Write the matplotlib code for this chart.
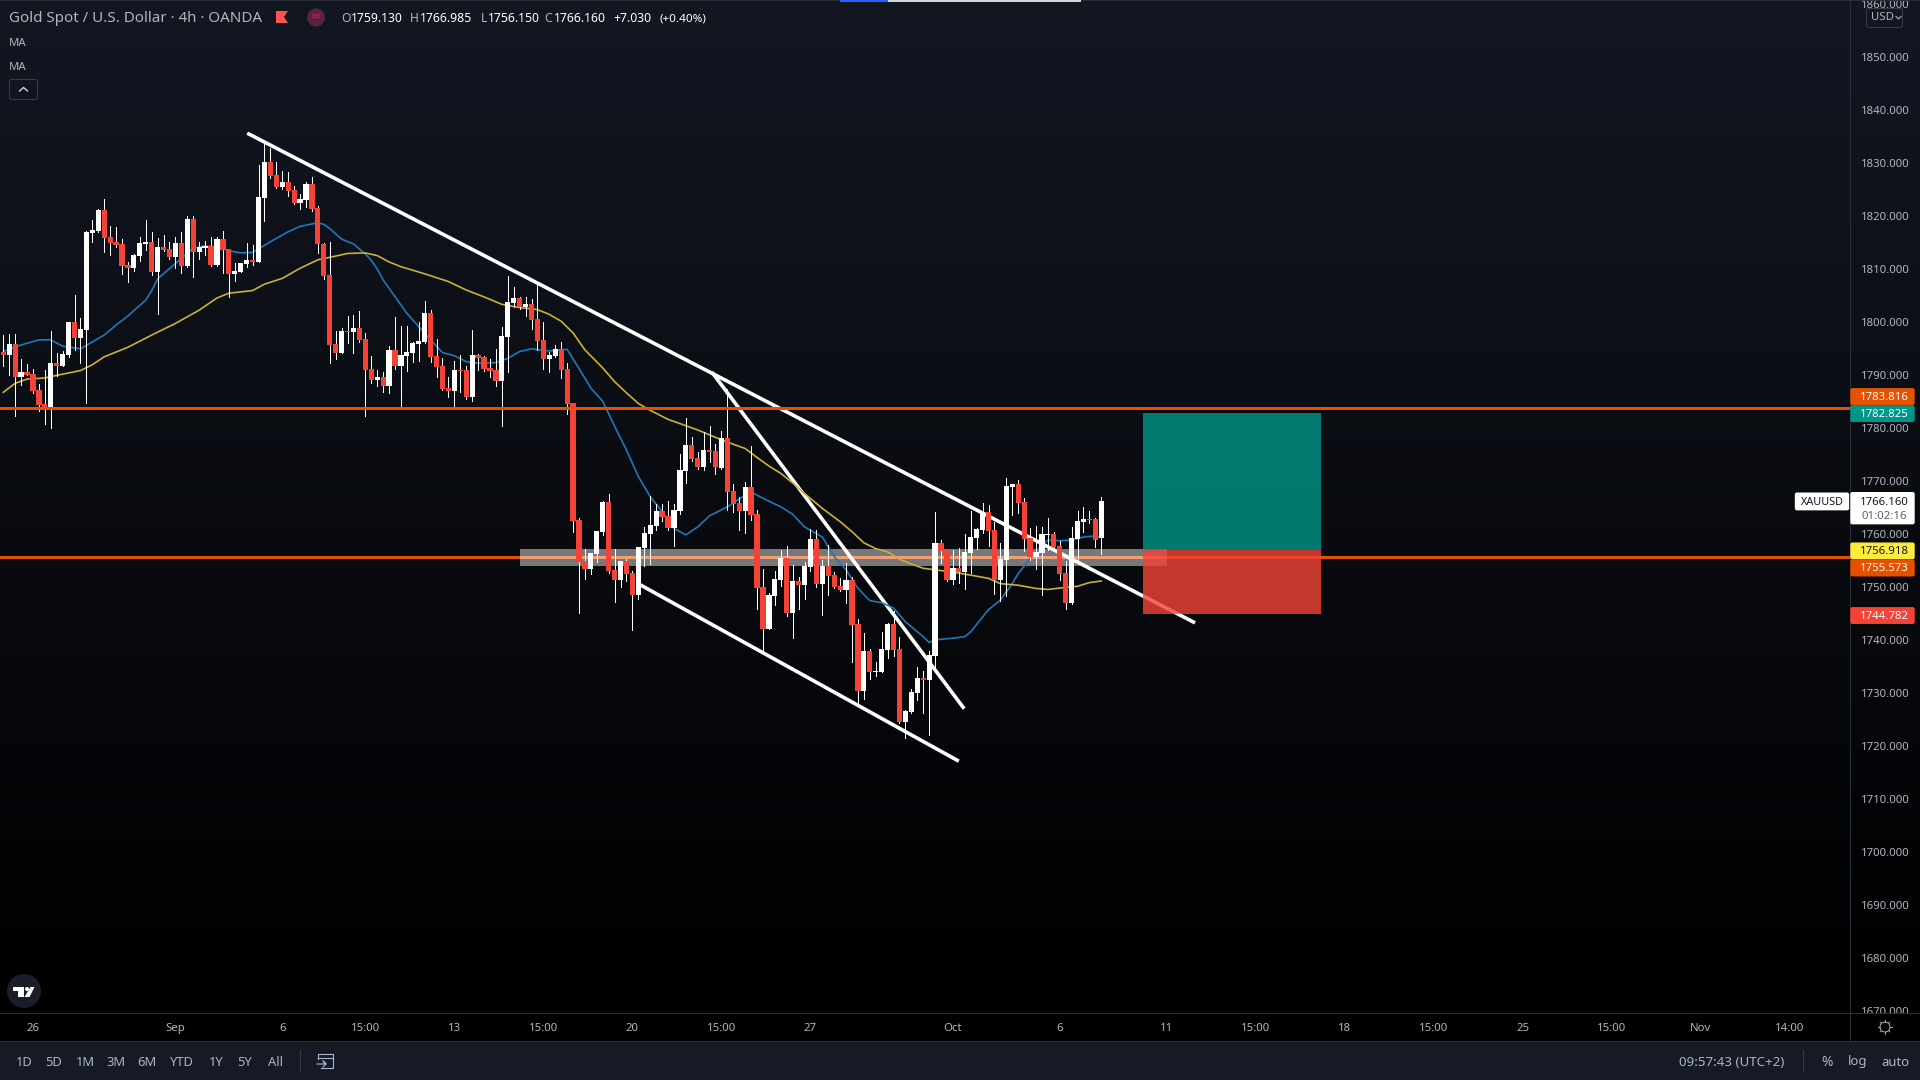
import numpy as np
import matplotlib
matplotlib.use('Agg')
import matplotlib.pyplot as plt
from matplotlib.patches import Rectangle, FancyBboxPatch, Circle, Polygon
from matplotlib.transforms import blended_transform_factory

plt.rcParams['font.family'] = ['Noto Sans', 'DejaVu Sans']

### ------------- XAUUSD 4h candles, oldest first
opens = [1794.3,1793.7,1795.8,1789.6,1790.5,1790.2,1787.1,1784.5,1783.9,1792.2,
         1791.7,1793.7,1800.0,1797.0,1798.5,1816.8,1817.1,1821.1,1816.0,1815.1,
         1814.7,1810.7,1810.2,1812.4,1814.7,1815.1,1809.4,1814.1,1813.7,1812.2,
         1814.9,1810.5,1819.4,1813.2,1813.9,1814.3,1810.7,1815.6,1813.7,1809.0,
         1809.4,1810.9,1811.7,1811.3,1823.4,1830.2,1827.7,1825.4,1826.4,1824.9,
         1822.4,1823.0,1826.0,1821.5,1814.7,1808.8,1795.8,1794.1,1798.3,1798.1,
         1798.8,1796.8,1791.1,1789.0,1789.6,1787.9,1794.7,1791.7,1793.6,1794.1,
         1795.8,1796.2,1801.7,1793.6,1791.7,1787.5,1787.0,1790.9,1790.9,1785.8,
         1793.7,1793.4,1791.3,1790.9,1788.8,1797.1,1803.6,1804.5,1802.8,1803.4,
         1800.5,1796.6,1793.0,1793.6,1794.9,1791.1,1784.7,1762.6,1754.9,1753.4,
         1756.2,1760.3,1766.0,1753.2,1751.3,1754.9,1752.6,1748.5,1757.3,1760.0,
         1761.5,1764.3,1763.4,1761.1,1764.3,1771.9,1776.8,1774.3,1772.6,1775.8,
         1775.6,1772.4,1778.1,1768.1,1765.8,1764.3,1768.8,1763.7,1750.0,1742.0,
         1748.3,1751.3,1755.4,1745.1,1751.1,1750.3,1753.7,1759.0,1750.5,1753.9,
         1752.2,1750.2,1749.4,1751.3,1743.0,1730.3,1737.9,1733.9,1733.9,1738.1,
         1743.0,1738.3,1724.5,1726.4,1730.0,1732.8,1732.4,1737.0,1758.3,1756.9,
         1751.3,1753.6,1752.8,1756.4,1759.2,1760.7,1764.1,1760.7,1751.3,1755.1,
         1768.8,1769.4,1766.0,1759.2,1755.6,1756.4,1759.8,1760.0,1757.7,1752.6,
         1746.9,1759.0,1762.2,1762.8,1762.8,1759.13]

closes = [1793.7,1795.8,1789.6,1790.5,1790.0,1786.9,1784.3,1783.9,1792.2,1791.7,
          1793.9,1800.0,1797.0,1798.6,1817.0,1817.3,1821.1,1815.8,1814.9,1814.5,
          1810.5,1810.2,1812.6,1814.9,1815.1,1809.4,1814.1,1813.6,1812.2,1814.9,
          1810.5,1819.4,1813.2,1814.1,1814.3,1810.7,1815.6,1813.6,1809.0,1809.6,
          1811.1,1811.7,1811.3,1823.5,1830.2,1827.5,1825.4,1826.4,1824.7,1822.4,
          1823.2,1826.0,1821.3,1814.7,1808.6,1795.6,1794.1,1798.3,1798.1,1798.8,
          1796.6,1790.9,1789.0,1789.6,1787.9,1794.7,1791.7,1793.7,1794.3,1796.0,
          1796.4,1801.7,1793.4,1791.5,1787.3,1787.0,1790.9,1790.7,1785.8,1793.7,
          1793.2,1791.1,1790.7,1788.8,1797.3,1803.7,1804.5,1802.8,1803.4,1800.3,
          1796.4,1793.0,1793.7,1794.9,1790.9,1784.5,1762.4,1754.7,1753.4,1756.4,
          1760.5,1766.0,1753.0,1751.3,1754.9,1752.4,1748.5,1757.5,1760.2,1761.7,
          1764.3,1763.2,1761.1,1764.5,1772.0,1776.8,1774.1,1772.6,1775.8,1775.4,
          1772.6,1778.1,1767.9,1765.6,1764.3,1768.8,1763.6,1749.8,1742.0,1748.5,
          1751.5,1755.4,1745.1,1751.1,1750.3,1753.9,1759.0,1750.5,1753.9,1752.0,
          1750.0,1749.4,1751.3,1742.8,1730.3,1737.9,1733.9,1734.1,1738.3,1743.0,
          1738.1,1724.5,1726.6,1730.2,1732.8,1732.4,1737.1,1758.3,1756.8,1751.3,
          1753.6,1752.8,1756.6,1759.4,1760.9,1764.1,1760.5,1751.3,1755.2,1769.0,
          1769.4,1765.8,1759.0,1755.6,1756.6,1760.0,1760.0,1757.5,1752.4,1746.9,
          1759.2,1762.4,1762.8,1762.6,1758.8,1766.16]

highs = [1797.5,1797.7,1797.7,1793.0,1792.0,1791.1,1788.2,1790.9,1798.3,1794.1,
         1794.5,1800.0,1805.1,1800.7,1817.1,1819.2,1821.3,1823.2,1818.1,1817.9,
         1815.6,1811.3,1812.8,1816.0,1819.2,1817.0,1815.8,1816.4,1815.1,1816.0,
         1817.0,1820.0,1820.0,1815.1,1815.2,1816.0,1816.0,1817.1,1813.7,1811.1,
         1811.1,1814.9,1814.5,1829.6,1833.7,1832.8,1830.2,1828.5,1828.3,1825.6,
         1824.1,1826.4,1827.3,1821.9,1814.8,1815.0,1798.3,1798.8,1801.1,1801.3,
         1802.0,1797.9,1793.6,1790.9,1790.5,1795.5,1800.9,1799.2,1799.2,1796.2,
         1800.0,1803.9,1802.2,1796.8,1793.2,1789.6,1792.6,1793.7,1791.7,1798.5,
         1793.9,1793.6,1793.0,1794.9,1799.0,1808.7,1806.6,1804.7,1804.7,1804.3,
         1807.1,1800.0,1794.3,1795.6,1796.2,1792.2,1784.7,1763.0,1757.1,1756.4,
         1760.5,1766.2,1767.5,1757.1,1754.9,1755.3,1753.0,1757.5,1761.3,1767.1,
         1765.6,1765.6,1766.2,1765.6,1775.1,1781.9,1778.3,1775.4,1779.2,1780.3,
         1777.0,1779.4,1787.3,1769.4,1767.0,1769.8,1776.6,1764.5,1753.4,1748.8,
         1753.0,1757.0,1757.7,1754.1,1751.9,1754.7,1760.9,1760.7,1755.1,1757.9,
         1752.8,1751.7,1754.5,1751.9,1743.9,1741.3,1738.3,1735.8,1741.5,1743.2,
         1745.4,1740.5,1726.8,1730.7,1734.9,1734.1,1737.9,1764.1,1758.8,1756.9,
         1756.9,1757.3,1760.0,1764.3,1761.1,1765.8,1765.4,1762.2,1758.3,1770.5,
         1769.4,1770.2,1766.8,1761.1,1761.5,1761.3,1763.0,1760.3,1758.7,1754.9,
         1761.3,1764.3,1765.1,1764.3,1763.0,1766.985]

lows = [1791.7,1790.0,1782.2,1788.1,1790.0,1786.6,1783.2,1780.7,1780.0,1789.8,
        1791.7,1793.4,1794.7,1792.2,1784.7,1815.1,1817.0,1813.2,1812.6,1814.1,
        1809.0,1807.5,1809.6,1811.5,1813.6,1808.8,1801.5,1813.4,1811.9,1810.2,
        1809.2,1810.3,1808.5,1811.9,1812.6,1810.5,1810.5,1809.2,1804.7,1807.7,
        1809.4,1810.3,1810.7,1811.3,1819.0,1827.1,1825.3,1825.1,1823.7,1822.2,
        1821.3,1821.7,1820.9,1813.0,1808.1,1792.2,1793.0,1794.1,1796.0,1794.1,
        1796.2,1782.2,1788.5,1787.9,1786.8,1786.6,1791.1,1783.7,1790.7,1792.4,
        1792.6,1796.0,1792.4,1789.6,1787.1,1785.8,1783.5,1786.8,1785.4,1785.1,
        1790.9,1790.7,1789.6,1787.9,1780.3,1790.5,1802.8,1802.4,1801.1,1798.7,
        1794.7,1791.1,1790.5,1793.4,1789.4,1782.6,1760.3,1745.1,1751.5,1752.4,
        1754.7,1759.8,1752.6,1747.1,1750.0,1751.1,1741.9,1747.7,1753.9,1754.3,
        1760.7,1762.4,1760.7,1757.7,1763.7,1769.6,1773.7,1772.2,1772.0,1773.6,
        1771.3,1772.2,1764.5,1764.1,1760.7,1760.2,1762.6,1745.8,1737.3,1742.0,
        1746.6,1750.2,1744.5,1740.3,1745.8,1747.7,1753.0,1750.0,1744.7,1748.5,
        1749.8,1749.2,1747.0,1735.8,1728.1,1728.8,1732.6,1733.2,1733.9,1736.6,
        1737.0,1724.3,1721.5,1726.2,1728.6,1726.2,1722.0,1734.9,1754.5,1751.1,
        1750.5,1750.7,1749.6,1752.6,1757.1,1760.2,1757.7,1748.6,1747.3,1748.3,
        1763.6,1763.9,1756.8,1755.1,1753.4,1748.5,1756.9,1757.3,1751.3,1745.8,
        1746.8,1754.7,1760.3,1762.0,1757.5,1756.15]

### ------------- moving averages, read at these bar numbers
fast_ma_bars = [0,2,6,8,10,13,17,19,21,24,25,26,29,32,34,36,38,40,42,45,48,50,53,54,55,57,59,61,
                62,63,64,68,70,72,74,76,78,80,83,85,87,89,92,95,97,99,101,103,105,107,109,111,113,
                115,117,119,122,125,126,128,131,133,135,138,140,142,144,146,148,150,152,155,156,
                157,160,162,163,165,166,168,170,171,173,175,176,178,180,182,184,185]
fast_ma = [1794.4,1795.3,1796.6,1796.6,1795.4,1794.9,1797.5,1799.4,1801.1,1804.1,1805.9,1808.1,1811.0,
           1813.9,1814.3,1814.1,1813.4,1813.0,1813.1,1815.1,1817.0,1818.0,1818.7,1818.4,1817.6,
           1815.6,1814.7,1812.8,1811.6,1810.0,1807.9,1801.6,1799.1,1796.6,1794.2,1793.6,1792.5,1792.2,
           1792.3,1793.1,1794.4,1794.9,1794.5,1794.8,1791.2,1787.5,1785.0,1780.3,1775.8,1770.8,1767.0,
           1764.2,1761.0,1759.8,1761.3,1763.4,1765.1,1767.3,1767.9,1766.7,1765.1,1763.7,1761.3,1759.4,
           1755.7,1753.2,1749.7,1747.4,1747.0,1746.0,1743.4,1740.6,1739.5,1740.0,1740.3,1740.6,1741.5,
           1744.3,1745.7,1747.5,1750.6,1752.5,1755.3,1757.9,1758.8,1758.7,1758.8,1759.4,1759.6,1759.4]

slow_ma_bars = [0,2,4,7,9,13,15,17,21,25,29,33,36,38,42,44,47,50,53,56,58,61,63,65,67,70,72,75,78,81,84,
                87,90,92,94,96,98,101,103,105,107,109,112,114,117,120,123,125,127,129,131,133,135,138,
                141,143,145,147,149,151,153,155,157,160,163,166,168,171,174,176,179,181,183,185]
slow_ma = [1786.7,1788.4,1789.2,1789.4,1789.9,1790.8,1791.9,1793.4,1795.2,1797.5,1799.7,1802.2,1804.5,
           1805.4,1805.9,1807.1,1808.2,1810.1,1811.7,1812.4,1812.9,1813.0,1812.5,1811.3,1810.4,1809.4,
           1808.7,1807.6,1806.0,1804.7,1803.3,1802.7,1802.3,1801.4,1800.1,1797.9,1794.7,1791.3,1788.7,
           1786.6,1784.6,1783.3,1781.6,1780.8,1779.6,1778.2,1776.9,1776.1,1774.4,1772.8,1771.4,1769.6,
           1767.6,1764.8,1762.3,1760.4,1758.3,1757.2,1756.6,1755.2,1754.3,1753.5,1753.2,1752.8,1752.2,
           1751.6,1750.6,1750.3,1749.7,1749.5,1749.9,1750.1,1750.8,1751.1]

### ------------- drawings on the chart
upper_level = 1783.816
lower_level = 1755.573
zone_bars = [87, 196]
zone_prices = [1753.99, 1757.14]
entry_price = 1756.918
target_price = 1782.825
stop_price = 1744.782
position_bars = [192, 222]
resistance_bars = [41.1, 200.8]
resistance_prices = [1835.6, 1743.2]
wedge_top_bars = [119.4, 161.9]
wedge_top_prices = [1790.5, 1727.0]
wedge_low_bars = [106.8, 161.0]
wedge_low_prices = [1750.7, 1717.1]

### ------------- axis labels
price_ticks = list(range(1670, 1861, 10))
time_tick_bars = [5, 29, 47, 61, 76, 91, 106, 121, 136, 160, 178, 196, 211, 226, 241, 256, 271, 286, 301]
time_tick_labels = ['26', 'Sep', '6', '15:00', '13', '15:00', '20', '15:00', '27', 'Oct', '6', '11',
                    '15:00', '18', '15:00', '25', '15:00', 'Nov', '14:00']
range_buttons = ['1D', '5D', '1M', '3M', '6M', 'YTD', '1Y', '5Y', 'All']
range_button_x = [24, 54, 85, 116, 147, 182, 216, 245, 275]

RED = '#F44336'
TEAL = '#009688'
ORANGE = '#E65100'
YELLOW = '#FFEB3B'
AXIS_TEXT = '#B2B5BE'
PANEL = '#161A25'
EDGE = '#2A2E39'

W, H = 1920, 1080
PANE_W, PANE_H = 1850, 1013
fig = plt.figure(figsize = (W / 100, H / 100), dpi = 100, facecolor = 'black')

# vertical background gradient behind the pane and the price scale
bg = fig.add_axes([0, 1 - PANE_H / H, 1, PANE_H / H], zorder = 0)
top_colour = np.array([19, 23, 34]) / 255
grad = np.linspace(0, 1, 512)[:, None, None] * (-top_colour) + top_colour
bg.imshow(grad, aspect = 'auto', extent = (0, 1, 0, 1), interpolation = 'bilinear')
bg.axis('off')

# main pane
ax = fig.add_axes([0, 1 - PANE_H / H, PANE_W / W, PANE_H / H], zorder = 1)
ax.patch.set_visible(False)
ax.set_xlim(-3.3 / 5.935, (PANE_W - 3.3) / 5.935)
ax.set_ylim(1669.59, 1860.72)

ax.axhline(lower_level, color = ORANGE, lw = 2.2, zorder = 1)
ax.add_patch(Rectangle((zone_bars[0], zone_prices[0]), zone_bars[1] - zone_bars[0],
                       zone_prices[1] - zone_prices[0], facecolor = 'white', alpha = 0.45,
                       linewidth = 0, zorder = 2))

ax.plot(resistance_bars, resistance_prices, color = 'white', lw = 2.6, solid_capstyle = 'butt', zorder = 2.5)
ax.plot(wedge_top_bars, wedge_top_prices, color = 'white', lw = 2.6, solid_capstyle = 'butt', zorder = 2.5)
ax.plot(wedge_low_bars, wedge_low_prices, color = 'white', lw = 2.6, solid_capstyle = 'butt', zorder = 2.5)

ax.plot(fast_ma_bars, fast_ma, color = '#2177B8', lw = 1.2, zorder = 3)
ax.plot(slow_ma_bars, slow_ma, color = '#C9B037', lw = 1.2, zorder = 3)

# candles
bars = np.arange(len(opens))
o = np.array(opens)
c = np.array(closes)
candle_colours = np.where(c >= o, 'white', RED)
ax.vlines(bars, lows, highs, colors = 'white', lw = 0.5, antialiased = False, zorder = 4)
ax.bar(bars, np.maximum(np.abs(c - o), 0.25), bottom = np.minimum(o, c), width = 0.88,
       color = candle_colours, linewidth = 0, antialiased = False, zorder = 4.1)

ax.axhline(upper_level, color = ORANGE, lw = 2.2, zorder = 5)

# long position box
ax.add_patch(Rectangle((position_bars[0], entry_price), position_bars[1] - position_bars[0],
                       target_price - entry_price, facecolor = TEAL, alpha = 0.8, linewidth = 0, zorder = 6))
ax.add_patch(Rectangle((position_bars[0], stop_price), position_bars[1] - position_bars[0],
                       entry_price - stop_price, facecolor = RED, alpha = 0.8, linewidth = 0, zorder = 6))

ax.set_yticks(price_ticks)
ax.set_yticklabels(['%.3f' % p for p in price_ticks])
ax.yaxis.tick_right()
ax.tick_params(axis = 'y', length = 0, pad = 8, labelsize = 8.2, labelcolor = AXIS_TEXT)
ax.set_xticks([])
for side in ['top', 'left', 'bottom']:
    ax.spines[side].set_visible(False)
ax.spines['right'].set_color(EDGE)

# time scale strip
time_ax = fig.add_axes([0, 39 / H, PANE_W / W, 28 / H], sharex = ax, zorder = 2, facecolor = 'black')
time_ax.set_ylim(0, 1)
time_ax.tick_params(length = 0, labelbottom = False, labelleft = False)
for side in time_ax.spines.values():
    side.set_visible(False)
strip_trans = blended_transform_factory(time_ax.transData, time_ax.transAxes)
for bar, label in zip(time_tick_bars, time_tick_labels):
    time_ax.text(bar, 0.45, label, transform = strip_trans, ha = 'center', va = 'center', color = AXIS_TEXT,
                 fontsize = 8.2, fontweight = 'bold' if label in ['Sep', 'Oct', 'Nov'] else 'normal')

# header, buttons and price badges, laid out in screen pixels
ui = fig.add_axes([0, 0, 1, 1], zorder = 3)
ui.set_xlim(0, W)
ui.set_ylim(H, 0)
ui.axis('off')
ui.patch.set_visible(False)


def price_to_y(price) :
    return H - ax.transData.transform((0, price))[1]


def badge(price, label, face, colour = 'white', shift = 0, weight = 'bold') :
    y = price_to_y(price) + shift
    ui.add_patch(FancyBboxPatch((1851, y - 7.5), 63, 15.5, boxstyle = 'round,pad=0,rounding_size=1.5',
                                facecolor = face, linewidth = 1, edgecolor = face))
    ui.text(1884.5, y + 1, label, color = colour, fontsize = 8.2, ha = 'center', va = 'center', fontweight = weight)


ui.add_patch(Rectangle((PANE_W, 1013), 70, 28, facecolor = 'black', linewidth = 0))
ui.add_patch(Rectangle((0, 1041), W, 39, facecolor = PANEL, linewidth = 0))
ui.plot([0, W], [1013, 1013], color = EDGE, lw = 0.8)
ui.plot([0, W], [1041, 1041], color = EDGE, lw = 0.8)
ui.plot([PANE_W, PANE_W], [1013, 1041], color = EDGE, lw = 0.8)
ui.add_patch(Rectangle((0, 0), W, 1.2, facecolor = EDGE, linewidth = 0))
ui.add_patch(Rectangle((840, 0), 48, 1.5, facecolor = '#2962FF', linewidth = 0))
ui.add_patch(Rectangle((888, 0), 193, 1.5, facecolor = '#D1D4DC', linewidth = 0))

ui.text(9, 19, 'Gold Spot / U.S. Dollar · 4h · OANDA', color = AXIS_TEXT, fontsize = 10.9, va = 'center')
ui.add_patch(Polygon([(276, 11), (288, 11), (284, 17), (288, 23), (276, 23)], facecolor = '#FF5252', linewidth = 0))
ui.add_patch(Circle((316, 17.5), 9, facecolor = '#5A2240', linewidth = 0))
ui.text(316, 17, '≈', color = '#C2185B', fontsize = 9, ha = 'center', va = 'center', fontweight = 'bold')

for x, letter, x_val, val in zip([341, 410, 481, 544], 'OHLC', [351, 420, 488, 554],
                                 ['1759.130', '1766.985', '1756.150', '1766.160']) :
    ui.text(x, 19, letter, color = AXIS_TEXT, fontsize = 8.8, va = 'center')
    ui.text(x_val, 19, val, color = 'white', fontsize = 8.8, va = 'center', fontweight = 'semibold')
ui.text(613, 19, '+7.030', color = 'white', fontsize = 8.8, va = 'center', fontweight = 'semibold')
ui.text(660, 19, '(+0.40%)', color = 'white', fontsize = 8.4, va = 'center', fontweight = 'semibold')

ui.text(9, 44, 'MA', color = AXIS_TEXT, fontsize = 8.2, va = 'center')
ui.text(9, 68, 'MA', color = AXIS_TEXT, fontsize = 8.2, va = 'center')
ui.add_patch(FancyBboxPatch((9.5, 79.5), 28, 20, boxstyle = 'round,pad=0,rounding_size=2',
                            facecolor = 'none', edgecolor = '#363A45', linewidth = 0.8))
ui.plot([19.5, 23.5, 27.5], [91, 87.5, 91], color = '#D1D4DC', lw = 1)

# USD button covers the top tick label
ui.add_patch(FancyBboxPatch((1866.5, 8.5), 36, 19, boxstyle = 'round,pad=0,rounding_size=2',
                            facecolor = '#131722', edgecolor = '#363A45', linewidth = 0.8))
ui.text(1871, 18, 'USD', color = AXIS_TEXT, fontsize = 8.2, va = 'center')
ui.plot([1896, 1898.5, 1901], [16.5, 19, 16.5], color = AXIS_TEXT, lw = 0.8)

badge(upper_level, '1783.816', ORANGE, shift = -11.3)
badge(target_price, '1782.825', TEAL, shift = 0.5)
badge(entry_price, '1756.918', YELLOW, colour = '#131722', shift = 0.5, weight = 'normal')
badge(lower_level, '1755.573', ORANGE, shift = 10.5)
badge(stop_price, '1744.782', RED, shift = 0.8)

# last price: symbol tag and a two line badge with the bar countdown
last_y = price_to_y(closes[-1])
ui.add_patch(FancyBboxPatch((1851, last_y - 8.5), 63, 31, boxstyle = 'round,pad=0,rounding_size=1.5',
                            facecolor = 'white', edgecolor = 'white', linewidth = 1))
ui.text(1884.5, last_y + 1, '%.3f' % closes[-1], color = '#131722', fontsize = 8.2, ha = 'center', va = 'center')
ui.text(1884.5, last_y + 15, '01:02:16', color = '#5D606B', fontsize = 8.2, ha = 'center', va = 'center')
ui.add_patch(FancyBboxPatch((1795.5, last_y - 8), 53, 16.5, boxstyle = 'round,pad=0,rounding_size=1.5',
                            facecolor = 'white', edgecolor = 'white', linewidth = 1))
ui.text(1822, last_y + 1, 'XAUUSD', color = '#131722', fontsize = 7.8, ha = 'center', va = 'center')

# logo badge
ui.add_patch(Circle((24, 991), 17, facecolor = '#1A1E2B', linewidth = 0))
ui.add_patch(Polygon([(13, 987), (23.5, 987), (23.5, 997), (18, 997), (18, 990.5), (13, 990.5)],
                     facecolor = 'white', linewidth = 0))
ui.add_patch(Circle((27, 989), 2, facecolor = 'white', linewidth = 0))
ui.add_patch(Polygon([(30.5, 987), (34.5, 987), (29.5, 997), (24.5, 997)], facecolor = 'white', linewidth = 0))

# gear icon in the scale corner
gear = np.linspace(0, 2 * np.pi, 8, endpoint = False)
ui.add_patch(Circle((1885, 1027), 5, facecolor = 'none', edgecolor = AXIS_TEXT, linewidth = 0.7))
for a in gear :
    ui.plot([1885 + 5 * np.cos(a), 1885 + 7 * np.cos(a)], [1027 + 5 * np.sin(a), 1027 + 7 * np.sin(a)],
            color = AXIS_TEXT, lw = 0.6)

# bottom toolbar
for x, label in zip(range_button_x, range_buttons) :
    ui.text(x, 1062, label, color = '#A9B4CC', fontsize = 9.3, ha = 'center', va = 'center')
ui.plot([300, 300], [1050, 1071], color = '#363A45', lw = 0.8)
ui.plot([1803, 1803], [1050, 1071], color = '#363A45', lw = 0.8)
ui.plot([318, 318, 333, 333, 321], [1059, 1054, 1054, 1068, 1068], color = '#A9B4CC', lw = 0.8)
ui.plot([318, 333], [1058, 1058], color = '#A9B4CC', lw = 0.8)
ui.plot([317, 326, 323, 326, 323], [1064, 1064, 1061, 1064, 1067], color = '#A9B4CC', lw = 0.8)
ui.text(1732, 1062, '09:57:43 (UTC+2)', color = '#A9B4CC', fontsize = 9.6, ha = 'center', va = 'center')
ui.text(1827, 1062, '%', color = AXIS_TEXT, fontsize = 10, ha = 'center', va = 'center')
ui.text(1858, 1062, 'log', color = AXIS_TEXT, fontsize = 9.4, ha = 'center', va = 'center')
ui.text(1895, 1062, 'auto', color = AXIS_TEXT, fontsize = 9.4, ha = 'center', va = 'center')

fig.savefig('out.png', dpi = 100, facecolor = 'black')
